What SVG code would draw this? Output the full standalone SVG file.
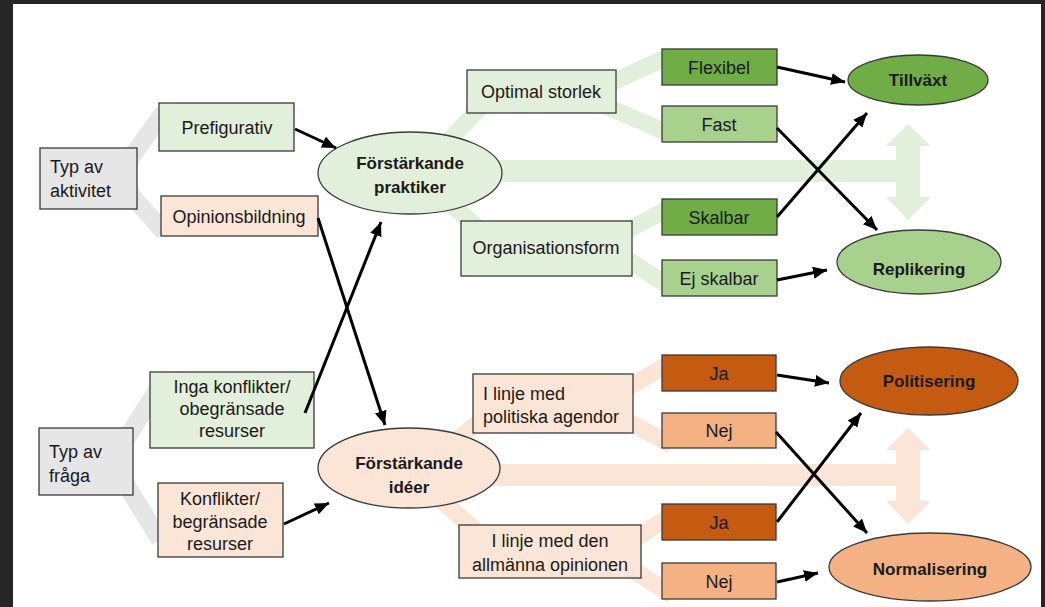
<svg xmlns="http://www.w3.org/2000/svg" width="1045" height="607" viewBox="0 0 1045 607">
<defs>
<marker id="ah" markerUnits="userSpaceOnUse" markerWidth="15" markerHeight="13" refX="14" refY="6" orient="auto">
<path d="M0,0 L14,6 L0,12 z" fill="#000"/>
</marker>
<style>
text{font-family:"Liberation Sans",Arial,sans-serif;font-size:18px;fill:#1a1a1a}
.b{font-weight:bold;font-size:17px}
.m{text-anchor:middle}
.box{stroke:#3a3a3a;stroke-width:1.3}
.gray{fill:#e7e6e6}
.lg{fill:#e2efda}
.lp{fill:#fbe5d6}
.dg{fill:#70ad47}
.mg{fill:#a9d18e}
.do{fill:#c55a11}
.mo{fill:#f4b183}
.bandg{stroke:#e2efda;stroke-width:17;fill:none}
.bandp{stroke:#fbe5d6;stroke-width:17;fill:none}
.bandx{stroke:#e7e6e6;stroke-width:18;fill:none;stroke-linejoin:miter}
.arr{stroke:#000;stroke-width:3;fill:none;marker-end:url(#ah)}
</style>
</defs>
<rect x="0" y="0" width="1045" height="607" fill="#262626"/>
<rect x="13" y="4" width="1028" height="603" fill="#fff"/>

<g id="bands">
<polyline class="bandx" points="164,112 116,178 164,232"/>
<polyline class="bandx" points="160,385 112,462 160,540"/>
<line class="bandg" x1="440" y1="150" x2="492" y2="95"/>
<line class="bandg" x1="432" y1="188" x2="492" y2="240"/>
<line class="bandg" x1="600" y1="88" x2="672" y2="55"/>
<line class="bandg" x1="592" y1="100" x2="672" y2="135"/>
<line class="bandg" x1="612" y1="238" x2="672" y2="207"/>
<line class="bandg" x1="612" y1="250" x2="672" y2="288"/>
<path fill="#e2efda" d="M480,160 H896 V146 H886 L908,124 L931,146 H920 V197 H931 L908,220 L886,197 H896 V182 H480 Z"/>
<line class="bandp" x1="438" y1="455" x2="500" y2="405"/>
<line class="bandp" x1="432" y1="492" x2="492" y2="545"/>
<line class="bandp" x1="615" y1="395" x2="672" y2="362"/>
<line class="bandp" x1="615" y1="415" x2="672" y2="445"/>
<line class="bandp" x1="625" y1="545" x2="672" y2="515"/>
<line class="bandp" x1="625" y1="565" x2="672" y2="595"/>
<path fill="#fbe5d6" d="M480,464 H896 V450 H886 L908,428 L931,450 H920 V501 H931 L908,524 L886,501 H896 V486 H480 Z"/>
</g>

<g id="typ-aktivitet"><rect class="box gray" x="40" y="148" width="97" height="61"/><text x="50" y="173">Typ av</text><text x="50" y="197">aktivitet</text></g>
<g id="prefigurativ"><rect class="box lg" x="159" y="103" width="135" height="48"/><text class="m" x="227" y="134">Prefigurativ</text></g>
<g id="opinionsbildning"><rect class="box lp" x="161" y="196" width="157" height="40"/><text class="m" x="239" y="223">Opinionsbildning</text></g>
<g id="typ-fraga"><rect class="box gray" x="39" y="428" width="94" height="67"/><text x="49" y="458">Typ av</text><text x="49" y="482">fråga</text></g>
<g id="inga-konflikter"><rect class="box lg" x="150" y="372" width="164" height="76"/><text class="m" x="232" y="393">Inga konflikter/</text><text class="m" x="232" y="415">obegränsade</text><text class="m" x="232" y="437">resurser</text></g>
<g id="konflikter"><rect class="box lp" x="158" y="483" width="125" height="74"/><text class="m" x="220" y="505">Konflikter/</text><text class="m" x="220" y="528">begränsade</text><text class="m" x="220" y="550">resurser</text></g>

<g id="forstarkande-praktiker"><ellipse class="box lg" cx="410" cy="173" rx="92" ry="41"/><text class="b m" x="410" y="169">Förstärkande</text><text class="b m" x="410" y="193">praktiker</text></g>
<g id="forstarkande-ideer"><ellipse class="box lp" cx="409" cy="468" rx="91" ry="40"/><text class="b m" x="409" y="469">Förstärkande</text><text class="b m" x="409" y="493">idéer</text></g>

<g id="optimal-storlek"><rect class="box lg" x="467" y="70" width="149" height="43"/><text class="m" x="541" y="98">Optimal storlek</text></g>
<g id="organisationsform"><rect class="box lg" x="461" y="221" width="171" height="55"/><text class="m" x="546" y="254">Organisationsform</text></g>
<g id="politiska"><rect class="box lp" x="473" y="374" width="160" height="59"/><text x="483" y="400">I linje med</text><text x="483" y="423">politiska agendor</text></g>
<g id="allmanna"><rect class="box lp" x="459" y="525" width="182" height="53"/><text class="m" x="550" y="547">I linje med den</text><text class="m" x="550" y="571">allmänna opinionen</text></g>

<g id="flexibel"><rect class="box dg" x="662" y="49" width="115" height="36"/><text class="m" x="719" y="74">Flexibel</text></g>
<g id="fast"><rect class="box mg" x="662" y="106" width="115" height="36"/><text class="m" x="719" y="131">Fast</text></g>
<g id="skalbar"><rect class="box dg" x="662" y="199" width="115" height="36"/><text class="m" x="719" y="224">Skalbar</text></g>
<g id="ej-skalbar"><rect class="box mg" x="662" y="260" width="115" height="36"/><text class="m" x="719" y="285">Ej skalbar</text></g>
<g id="ja1"><rect class="box do" x="662" y="355" width="114" height="36"/><text class="m" x="719" y="380">Ja</text></g>
<g id="nej1"><rect class="box mo" x="662" y="413" width="114" height="35"/><text class="m" x="719" y="437">Nej</text></g>
<g id="ja2"><rect class="box do" x="662" y="504" width="114" height="36"/><text class="m" x="719" y="529">Ja</text></g>
<g id="nej2"><rect class="box mo" x="662" y="563" width="114" height="36"/><text class="m" x="719" y="588">Nej</text></g>

<g id="tillvaxt"><ellipse class="box dg" cx="918" cy="80" rx="70" ry="25"/><text class="b m" x="918" y="86">Tillväxt</text></g>
<g id="replikering"><ellipse class="box mg" cx="919" cy="262" rx="82" ry="32"/><text class="b m" x="919" y="275">Replikering</text></g>
<g id="politisering"><ellipse class="box do" cx="929" cy="381" rx="89" ry="34"/><text class="b m" x="929" y="387">Politisering</text></g>
<g id="normalisering"><ellipse class="box mo" cx="930" cy="567" rx="101" ry="34"/><text class="b m" x="930" y="575">Normalisering</text></g>

<g id="connectors">
<line class="arr" x1="295" y1="129" x2="336" y2="148"/>
<line class="arr" x1="318" y1="218" x2="385" y2="425"/>
<line class="arr" x1="305" y1="413" x2="381" y2="222"/>
<line class="arr" x1="284" y1="524" x2="329" y2="503"/>
<line class="arr" x1="777" y1="67" x2="845" y2="82"/>
<line class="arr" x1="777" y1="128" x2="877" y2="230"/>
<line class="arr" x1="777" y1="217" x2="867" y2="113"/>
<line class="arr" x1="777" y1="280" x2="827" y2="270"/>
<line class="arr" x1="777" y1="375" x2="829" y2="383"/>
<line class="arr" x1="776" y1="432" x2="867" y2="533"/>
<line class="arr" x1="777" y1="522" x2="861" y2="413"/>
<line class="arr" x1="777" y1="582" x2="818" y2="573"/>
</g>
</svg>
